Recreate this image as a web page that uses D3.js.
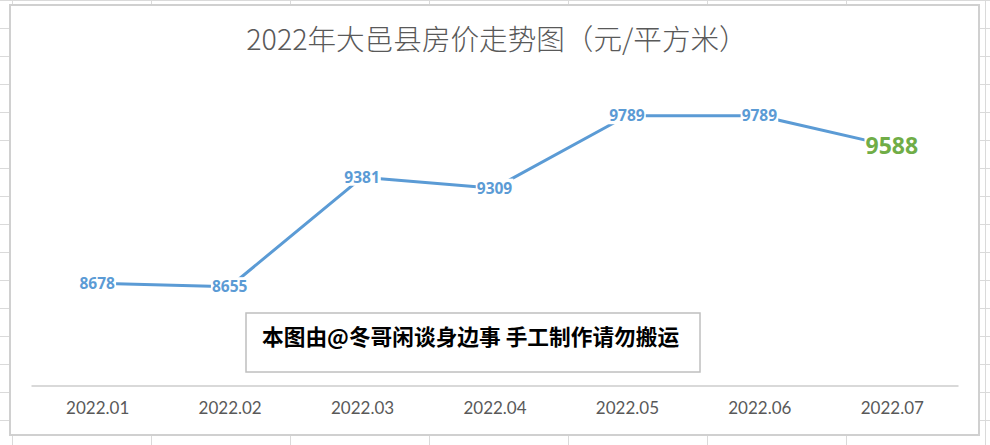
<!DOCTYPE html>
<html>
<head>
<meta charset="utf-8">
<script src="https://cdn.jsdelivr.net/npm/d3@7/dist/d3.min.js"></script>
<style>
  html, body { margin: 0; padding: 0; background: #fff; }
  svg { display: block; }
</style>
</head>
<body>
<svg id="chart" width="990" height="445"></svg>
<script>
const categories = ["2022.01", "2022.02", "2022.03", "2022.04", "2022.05", "2022.06", "2022.07"];
const prices = [8678, 8655, 9381, 9309, 9789, 9789, 9588];
const yDomain = [8000, 10000];
const titleText = "2022年大邑县房价走势图（元/平方米）";
const noteText = "本图由@冬哥闲谈身边事 手工制作请勿搬运";

const W = 990, H = 445;
const svg = d3.select("#chart");

// spreadsheet grid background
const bg = svg.append("g");
for (let gx = 12; gx < W; gx += 139) {
  bg.append("line").attr("x1", gx + 0.5).attr("x2", gx + 0.5).attr("y1", 0).attr("y2", H)
    .attr("stroke", "#dadada").attr("stroke-width", 1);
}
for (let gy = 0; gy < H; gy += 28) {
  bg.append("line").attr("x1", 0).attr("x2", W).attr("y1", gy + 0.5).attr("y2", gy + 0.5)
    .attr("stroke", "#dadada").attr("stroke-width", 1);
}

// chart area
svg.append("rect").attr("x", 10).attr("y", 5).attr("width", 969).attr("height", 430)
  .attr("fill", "#fff").attr("stroke", "#d0d0d0").attr("stroke-width", 2);

const x = d3.scalePoint().domain(categories).range([31, 958]).padding(0.5);
const y = d3.scaleLinear().domain(yDomain).range([385.5, 84]);

// title
svg.append("text").attr("x", 497).attr("y", 50).attr("text-anchor", "middle")
  .attr("font-family", "'Noto Sans CJK SC', 'Noto Sans', sans-serif")
  .attr("font-size", 28.6).attr("font-weight", 300).attr("fill", "#595959")
  .text(titleText);

// x axis
const axis = svg.append("g").attr("transform", "translate(0,385.5)")
  .call(d3.axisBottom(x).tickSize(0).tickPadding(0));
axis.select(".domain").attr("stroke", "#d9d9d9").attr("stroke-width", 2);
axis.selectAll(".tick text")
  .attr("dy", "1.65em")
  .attr("font-family", "Lato, 'Open Sans', sans-serif")
  .attr("font-size", 17).attr("fill", "#595959");

// note box
svg.append("rect").attr("x", 246).attr("y", 313).attr("width", 454).attr("height", 59)
  .attr("fill", "#fff").attr("stroke", "#bfbfbf").attr("stroke-width", 1.5);
svg.append("text").attr("x", 262).attr("y", 345)
  .attr("font-family", "'Noto Sans CJK SC', sans-serif")
  .attr("font-size", 21.7).attr("font-weight", 700).attr("fill", "#000")
  .text(noteText);

// line
const line = d3.line().x((d, i) => x(categories[i])).y(d => y(d));
svg.append("path").datum(prices).attr("d", line)
  .attr("fill", "none").attr("stroke", "#5b9bd5").attr("stroke-width", 3)
  .attr("stroke-linejoin", "round");

// labels
const lastIdx = prices.length - 1;
const labels = svg.append("g");
prices.forEach((v, i) => {
  const isLast = i === lastIdx;
  const g = labels.append("g").attr("transform", `translate(${x(categories[i])},${y(v)})`);
  const t = g.append("text").attr("text-anchor", "middle").attr("dy", "0.35em")
    .attr("font-family", "'Open Sans', 'Noto Sans', sans-serif")
    .attr("font-weight", 700)
    .attr("font-size", isLast ? 23 : 15.5)
    .attr("fill", isLast ? "#70ad47" : "#5b9bd5")
    .text(v);
  const bb = t.node().getBBox();
  g.insert("rect", "text").attr("x", bb.x - 1).attr("y", bb.y + 2)
    .attr("width", bb.width + 2).attr("height", bb.height - 4).attr("fill", "#fff");
});
</script>
</body>
</html>
